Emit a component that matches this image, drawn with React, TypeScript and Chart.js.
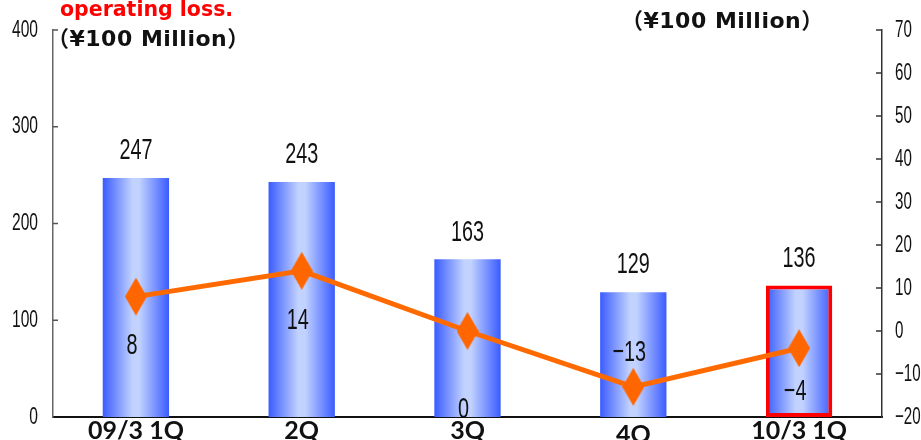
import React, { useEffect, useRef } from "react";
import { Chart, registerables } from "chart.js";
Chart.register(...registerables);

const categories = ["09/3 1Q", "2Q", "3Q", "4Q", "10/3 1Q"];
const sales = [247, 243, 163, 129, 136];
const operatingIncome = [8, 14, 0, -13, -4];
const leftTickValues = [0, 100, 200, 300, 400];
const rightTickValues = [-20, -10, 0, 10, 20, 30, 40, 50, 60, 70];
const unitLabel = "（¥100 Million）";
const noteLabel = "operating loss.";
const highlightIndex = 4;

const NUM_FONT = '"Liberation Sans", Arial, sans-serif';
const fmt = (v: number) => (v < 0 ? "\u2212" + Math.abs(v) : String(v));

function makeDiamond(w: number, h: number, color: string) {
  const cv = document.createElement("canvas");
  cv.width = w;
  cv.height = h;
  const g = cv.getContext("2d")!;
  g.fillStyle = color;
  g.beginPath();
  g.moveTo(w / 2, 0);
  g.lineTo(w, h / 2);
  g.lineTo(w / 2, h);
  g.lineTo(0, h / 2);
  g.closePath();
  g.fill();
  return cv;
}

function narrow(ctx: CanvasRenderingContext2D, text: string, x: number, y: number, size: number, sx: number, align: CanvasTextAlign) {
  ctx.save();
  ctx.translate(x, y);
  ctx.scale(sx, 1);
  ctx.font = `${size}px ${NUM_FONT}`;
  ctx.fillStyle = "#111";
  ctx.textAlign = align;
  ctx.textBaseline = "middle";
  ctx.fillText(text, 0, 0);
  ctx.restore();
}

const textPlugin = {
  id: "textPlugin",
  afterDraw(chart: any) {
    const ctx: CanvasRenderingContext2D = chart.ctx;
    const xs = chart.scales.x;
    const yl = chart.scales.y;
    const yr = chart.scales.y1;
    const area = chart.chartArea;

    // tick marks + tick labels
    ctx.save();
    ctx.strokeStyle = "#555";
    ctx.lineWidth = 1.5;
    leftTickValues.forEach((v) => {
      const y = yl.getPixelForValue(v);
      if (v !== leftTickValues[0]) {
        ctx.beginPath();
        ctx.moveTo(area.left, y);
        ctx.lineTo(area.left + 5, y);
        ctx.stroke();
      }
      narrow(ctx, String(v), 38, y, 24, 0.65, "right");
    });
    ctx.strokeStyle = "#333";
    rightTickValues.forEach((v) => {
      const y = yr.getPixelForValue(v);
      if (v !== rightTickValues[0]) {
        ctx.beginPath();
        ctx.moveTo(area.right - 6, y);
        ctx.lineTo(area.right, y);
        ctx.stroke();
      }
      narrow(ctx, fmt(v), 895, y, 24, 0.63, "left");
    });
    ctx.restore();

    // bar labels
    sales.forEach((v, i) => {
      const x = xs.getPixelForValue(i);
      const y = yl.getPixelForValue(v) - 27;
      narrow(ctx, fmt(v), x, y, 30, 0.66, "center");
    });
    // line labels
    const offs = [49, 50, 79, -34, 44];
    operatingIncome.forEach((v, i) => {
      const x = xs.getPixelForValue(i) - 4;
      const y = yr.getPixelForValue(v) + offs[i];
      narrow(ctx, fmt(v), x, y, 30, 0.66, "center");
    });

    // category labels
    ctx.save();
    ctx.font = 'bold 25px Lato, "DejaVu Sans", sans-serif';
    ctx.fillStyle = "#111";
    ctx.textAlign = "center";
    ctx.textBaseline = "alphabetic";
    categories.forEach((c, i) => {
      ctx.fillText(c, xs.getPixelForValue(i), 439 + (i === 3 ? 4 : 0));
    });
    ctx.restore();

    // titles
    ctx.save();
    ctx.textBaseline = "middle";
    ctx.textAlign = "left";
    ctx.font = 'bold 20.5px "DejaVu Sans", "Noto Sans CJK JP", sans-serif';
    ctx.fillStyle = "#ff0000";
    ctx.fillText(noteLabel, 60, 11);
    ctx.fillStyle = "#111";
    ctx.font = 'bold 22px "DejaVu Sans", "Noto Sans CJK JP", sans-serif';
    (ctx as any).letterSpacing = "0.5px";
    ctx.fillText(unitLabel, 47, 40);
    ctx.fillText(unitLabel, 621, 22);
    ctx.restore();
  },
};

export default function App() {
  const ref = useRef<HTMLCanvasElement | null>(null);
  useEffect(() => {
    const canvas = ref.current!;
    const diamond = makeDiamond(22, 38, "#ff6600");
    const chart = new Chart(canvas, {
      data: {
        labels: categories,
        datasets: [
          {
            type: "line",
            data: operatingIncome,
            yAxisID: "y1",
            borderColor: "#ff6a00",
            borderWidth: 5,
            pointStyle: diamond as any,
            pointRadius: 12,
            order: 0,
          } as any,
          {
            type: "bar",
            data: sales,
            yAxisID: "y",
            barPercentage: 0.4,
            categoryPercentage: 1,
            borderSkipped: false,
            borderWidth: (c: any) => (c.dataIndex === highlightIndex ? 4 : 0),
            borderColor: "#ff0000",
            backgroundColor: (c: any) => {
              const ch = c.chart;
              const xs = ch.scales && ch.scales.x;
              if (!xs || !ch.chartArea || c.dataIndex === undefined) return "#6a86ff";
              const cx = xs.getPixelForValue(c.dataIndex);
              const w = (xs.width / categories.length) * 0.4;
              const g = ch.ctx.createLinearGradient(cx - w / 2, 0, cx + w / 2, 0);
              g.addColorStop(0, "#3a5cff");
              g.addColorStop(0.45, "#c2d2ff");
              g.addColorStop(0.55, "#c2d2ff");
              g.addColorStop(1, "#3a5cff");
              return g;
            },
            order: 1,
          } as any,
        ],
      },
      options: {
        animation: false,
        responsive: false,
        maintainAspectRatio: false,
        layout: { padding: { left: 53, right: 39, top: 30, bottom: 23 } },
        plugins: { legend: { display: false }, tooltip: { enabled: false } },
        scales: {
          x: {
            type: "category",
            offset: true,
            grid: { display: false, drawTicks: false },
            ticks: { display: false },
            border: { display: true, color: "#111", width: 2 },
          },
          y: {
            position: "left",
            min: 0,
            max: 400,
            ticks: { display: false, stepSize: 100 },
            grid: { display: false, drawTicks: false },
            border: { display: true, color: "#666", width: 1.5 },
          },
          y1: {
            position: "right",
            min: -20,
            max: 70,
            ticks: { display: false, stepSize: 10 },
            grid: { display: false, drawTicks: false },
            border: { display: true, color: "#333", width: 1.5 },
          },
        },
      },
      plugins: [textPlugin],
    });
    return () => chart.destroy();
  }, []);
  return (
    <div style={{ position: "fixed", left: 0, top: 0, width: 921, height: 440, background: "#fff" }}>
      <canvas ref={ref} width={921} height={440} style={{ width: 921, height: 440 }} />
    </div>
  );
}
